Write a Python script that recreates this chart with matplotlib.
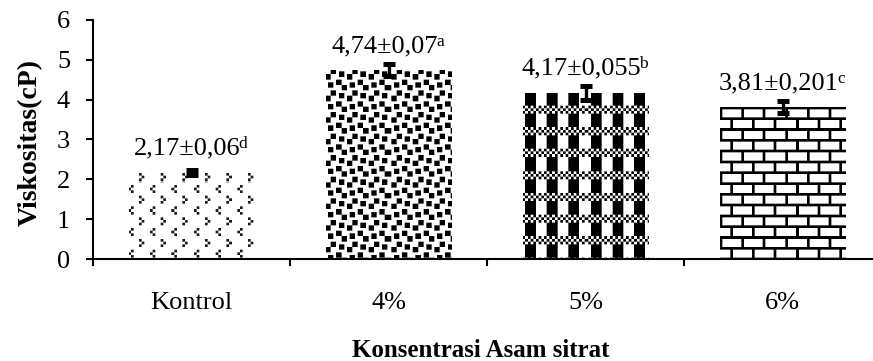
import numpy as np
import matplotlib
matplotlib.use("Agg")
import matplotlib.pyplot as plt

plt.rcParams['font.family'] = ['Liberation Serif', 'DejaVu Serif']

# data
kategori = ["Kontrol", "4%", "5%", "6%"]
viskositas = [2.17, 4.74, 4.17, 3.81]
sd_teks = ["0,06", "0,07", "0,055", "0,201"]
rata_teks = ["2,17", "4,74", "4,17", "3,81"]
notasi = ["d", "a", "b", "c"]
# error bar lengths as drawn in the picture
err_gambar = [0.07, 0.15, 0.17, 0.15]

# 8x8 fill patterns (Excel style)
pola = {
    "divot": [0x00, 0x40, 0x20, 0x40, 0x00, 0x02, 0x04, 0x02],
    "confetti": [0x8d, 0x0c, 0xc0, 0xd8, 0x1b, 0x03, 0x30, 0xb1],
    "plaid": [0x55, 0xAA, 0x55, 0xF0, 0xF0, 0xF0, 0xF0, 0xF0],
    "brick": [0xFF, 0x80, 0x80, 0x80, 0xFF, 0x08, 0x08, 0x08],
}
pola_bar = [("divot", 0.1), ("confetti", 0.0), ("plaid", 0.0), ("brick", 0.0)]

W, H = 873, 361
fig = plt.figure(figsize=(W / 100, H / 100), dpi=100)
ax_l, ax_b, ax_w, ax_h = 93, 102, 788, 239
ax = fig.add_axes([ax_l / W, ax_b / H, ax_w / W, ax_h / H])


def tekstur(rows, shade, w, h, skala=2.7, ss=3):
    bits = np.array([[(r >> (7 - i)) & 1 for i in range(8)] for r in rows], dtype=float)
    ys, xs = np.mgrid[0:h * ss, 0:w * ss]
    bx = ((xs / ss) / skala).astype(int) % 8
    by = ((ys / ss) / skala).astype(int) % 8
    m = bits[by, bx].reshape(h, ss, w, ss).mean(axis=(1, 3))
    v = 1 - m * (1 - shade)
    return np.dstack([v, v, v])


x = np.arange(len(kategori))
bars = ax.bar(x, viskositas, width=0.635, color='none', edgecolor='none', zorder=2)
for b, (nama, shade) in zip(bars, pola_bar):
    img = ax.imshow(tekstur(pola[nama], shade, ax_w, ax_h), extent=(-0.5, 3.5, 0, 6),
                    origin='upper', interpolation='nearest', aspect='auto', zorder=2)
    img.set_clip_path(b)

ax.errorbar(x, viskositas, yerr=err_gambar, fmt='none', ecolor='black',
            elinewidth=2.4, capsize=4.3, capthick=3.6, zorder=3)

ax.set_xlim(-0.5, 3.5)
ax.set_ylim(0, 6)
ax.set_yticks(range(0, 7))
ax.set_xticks(x)
ax.set_xticklabels(kategori)
ax.set_xticks(np.arange(-0.5, 4.0, 1.0), minor=True)
ax.tick_params(axis='x', which='major', length=0, pad=23.5, labelsize=19)
ax.tick_params(axis='x', which='minor', length=5, width=1.5, direction='out')
ax.tick_params(axis='y', length=5, width=1.5, pad=11.5, labelsize=19)
for s in ['top', 'right']:
    ax.spines[s].set_visible(False)
for s in ['left', 'bottom']:
    ax.spines[s].set_linewidth(1.5)

# data labels: main text + small superscript letter
fig.canvas.draw()
r = fig.canvas.get_renderer()
for xi, v, m, s, n in zip(x, viskositas, rata_teks, sd_teks, notasi):
    sup = ax.annotate(n, (xi, v), xytext=(0, 0), textcoords='offset points',
                      fontsize=12.5, va='baseline', ha='left')
    sup_w = sup.get_window_extent(r).width
    utama = ax.annotate(f"{m}±{s}", (xi, v), xytext=(-sup_w * 0.36, 13),
                        textcoords='offset points', ha='center', va='baseline', fontsize=19)
    bb = utama.get_window_extent(r)
    px, py = ax.transData.transform((xi, v))
    sup.xyann = ((bb.x1 - px) * 0.72 - 1.2, 13 + 4.7)

fig.text(30 / W, 1 - 143 / H, "Viskositas(cP)", rotation=90, ha='center', va='center',
         fontsize=20, fontweight='bold')
fig.text(481 / W, (H - 357) / H, "Konsentrasi Asam sitrat", ha='center', va='baseline',
         fontsize=18, fontweight='bold')

fig.savefig("out.png", dpi=100)
